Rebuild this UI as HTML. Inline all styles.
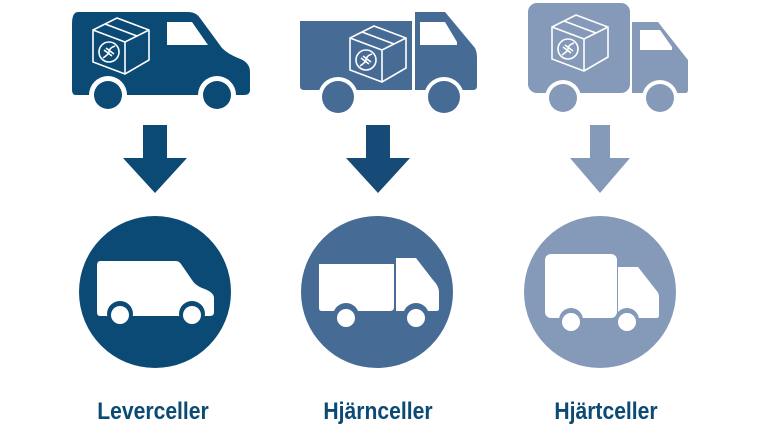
<!DOCTYPE html>
<html><head><meta charset="utf-8"><style>
html,body{margin:0;padding:0;background:#fff;width:768px;height:430px;overflow:hidden}
svg{display:block}
text{font-family:"Liberation Sans",sans-serif;font-weight:bold;font-size:24px;text-anchor:middle}
</style></head><body>
<svg width="768" height="430" viewBox="0 0 768 430" xmlns="http://www.w3.org/2000/svg">
<defs>
<g id="box" fill="none" stroke="#fff" stroke-width="1.6">
  <path d="M0 12 L24 0 L56 12 L56 42 L32 56 L0 44 Z"/>
  <path d="M0 12 L32 24 L56 12 M32 24 L32 56 M12 6 L44 18"/>
  <circle cx="16" cy="34" r="10"/>
  <path d="M10 40 q6 -4 6 -6 q0 -4 6 -6 M11 32 l8 6 M13 30 l8 6"/>
</g>
</defs>
<!-- Van 1 -->
<path fill="#0b4a75" d="M78 12 L188 12 Q196 12 200 18 L222 48 Q228 54 238 58 Q250 62 250 72 L250 90 Q250 95 244 95 L76 95 Q72 95 72 90 L72 24 Q72 12 78 12 Z"/>
<path fill="#fff" d="M167 22 L192 22 L208 45 L167 45 Z"/>
<circle cx="108" cy="95" r="19" fill="#fff"/><circle cx="108" cy="95" r="14" fill="#0b4a75"/>
<circle cx="217" cy="95" r="19" fill="#fff"/><circle cx="217" cy="95" r="14" fill="#0b4a75"/>
<use href="#box" x="93" y="18"/>
<!-- Truck 2 -->
<path fill="#466b95" d="M300 21 L412 21 L412 90 L304 90 Q300 90 300 86 Z"/>
<path fill="#466b95" d="M415 12 L445 12 L475 48 Q477 52 477 58 L477 86 Q477 90 473 90 L415 90 Z"/>
<path fill="#fff" d="M420 22 L445 22 L457 42 L457 45 L420 45 Z"/>
<circle cx="338" cy="97" r="20" fill="#fff"/><circle cx="338" cy="97" r="16" fill="#466b95"/>
<circle cx="444" cy="97" r="20" fill="#fff"/><circle cx="444" cy="97" r="16" fill="#466b95"/>
<use href="#box" x="350" y="26"/>
<!-- Truck 3 -->
<rect x="528" y="3" width="102" height="90" rx="9" fill="#8599b9"/>
<path fill="#8599b9" d="M632 22 L658 22 L688 60 L688 90 Q688 93 685 93 L632 93 Z"/>
<path fill="#fff" d="M640 30 L660 30 L672 47 L672 50 L640 50 Z"/>
<circle cx="563" cy="98" r="18" fill="#fff"/><circle cx="563" cy="98" r="14" fill="#8599b9"/>
<circle cx="660" cy="98" r="18" fill="#fff"/><circle cx="660" cy="98" r="14" fill="#8599b9"/>
<use href="#box" x="552" y="15"/>
<!-- arrows -->
<path fill="#0b4a75" d="M143 125 H167 V158 H187 L155 193 L123 158 H143 Z"/>
<path fill="#164b78" d="M366 125 H390 V158 H410 L378 193 L346 158 H366 Z"/>
<path fill="#8599b9" d="M590 125 H610 V158 H630 L600 193 L570 158 H590 Z"/>
<!-- circles -->
<circle cx="155" cy="292" r="76" fill="#0b4a75"/>
<circle cx="377" cy="292" r="76" fill="#466b95"/>
<circle cx="600" cy="292" r="76" fill="#8599b9"/>
<!-- van icon -->
<path fill="#fff" d="M100 261 L176 261 Q179 261 181 264 L192 280 Q195 285 202 288 Q214 292 214 298 L214 312 Q214 316 210 316 L100 316 Q97 316 97 312 L97 266 Q97 261 100 261 Z"/>
<circle cx="120" cy="314" r="13" fill="#0b4a75"/><circle cx="120" cy="315" r="9" fill="#fff"/>
<circle cx="192" cy="314" r="13" fill="#0b4a75"/><circle cx="192" cy="315" r="9" fill="#fff"/>
<!-- truck icon 2 -->
<path fill="#fff" d="M319 264 H394 V307 Q394 311 390 311 H322 Q319 311 319 308 Z"/>
<path fill="#fff" d="M396 258 H416 L433 280 Q439 286 439 292 V309 Q439 311 436 311 H396 Z"/>
<circle cx="346" cy="316" r="13" fill="#466b95"/><circle cx="346" cy="318" r="9" fill="#fff"/>
<circle cx="416" cy="316" r="13" fill="#466b95"/><circle cx="416" cy="318" r="9" fill="#fff"/>
<!-- truck icon 3 -->
<rect x="545" y="254" width="72" height="64" rx="6" fill="#fff"/>
<path fill="#fff" d="M618 267 H638 L656 290 Q659 293 659 297 V316 Q659 318 656 318 H618 Z"/>
<circle cx="571" cy="320" r="12" fill="#8599b9"/><circle cx="571" cy="322" r="9" fill="#fff"/>
<circle cx="627" cy="320" r="12" fill="#8599b9"/><circle cx="627" cy="322" r="9" fill="#fff"/>
<!-- labels -->
<text x="153" y="419" fill="#0b4a75" transform="translate(153 0) scale(0.88 1) translate(-153 0)">Leverceller</text>
<text x="378" y="419" fill="#0b4a75" transform="translate(378 0) scale(0.88 1) translate(-378 0)">Hjärnceller</text>
<text x="606" y="419" fill="#0b4a75" transform="translate(606 0) scale(0.88 1) translate(-606 0)">Hjärtceller</text>
</svg>
</body></html>
